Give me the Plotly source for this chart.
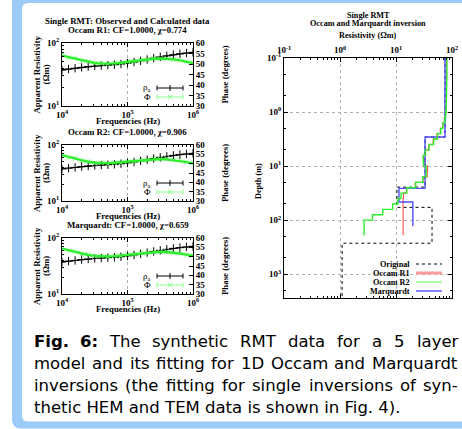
import plotly.graph_objects as go

W, H = 462, 429

# ---------------- data: left panels ----------------
freq = [10000, 12589, 15849, 19953, 25119, 31623, 39811, 50119, 63096, 79433,
        100000, 125893, 158489, 199526, 251189, 316228, 398107, 501187, 630957, 794328, 1000000]
rho_obs = [37.3, 38.6, 39.8, 41.1, 42.2, 43.1, 43.8, 44.5, 45.2, 46.3, 47.8,
           49.8, 52.2, 54.8, 57.5, 60.2, 62.8, 65.2, 67.3, 69.2, 71.0]
phase_obs = [54.4, 53.1, 52.8, 51.4, 51.2, 50.3, 50.4, 49.9, 50.5, 50.4, 51.2,
             51.2, 52.0, 52.0, 52.7, 52.4, 52.7, 52.0, 51.9, 50.9, 50.6]
rho_calc_r1 = [37.5, 38.7, 39.9, 41.0, 42.1, 43.0, 43.8, 44.6, 45.4, 46.5, 47.9,
               49.8, 52.1, 54.7, 57.4, 60.1, 62.7, 65.1, 67.3, 69.2, 71.0]
phase_calc_r1 = [54.0, 53.3, 52.5, 51.7, 51.0, 50.5, 50.2, 50.1, 50.3, 50.6, 51.0,
                 51.4, 51.8, 52.2, 52.5, 52.6, 52.5, 52.2, 51.7, 51.1, 50.4]
rho_calc_r2 = [37.6, 38.8, 39.9, 41.0, 42.0, 42.9, 43.7, 44.5, 45.4, 46.5, 47.9,
               49.8, 52.1, 54.7, 57.4, 60.1, 62.7, 65.1, 67.3, 69.2, 71.0]
phase_calc_r2 = [54.6, 53.6, 52.6, 51.7, 51.0, 50.5, 50.3, 50.3, 50.5, 50.8, 51.2,
                 51.6, 52.0, 52.3, 52.5, 52.5, 52.3, 51.9, 51.4, 50.8, 50.1]
rho_calc_mq = [37.4, 38.6, 39.8, 41.0, 42.1, 43.0, 43.8, 44.6, 45.4, 46.5, 47.9,
               49.8, 52.1, 54.7, 57.4, 60.1, 62.7, 65.1, 67.3, 69.2, 71.0]
phase_calc_mq = [54.3, 53.4, 52.5, 51.6, 50.9, 50.4, 50.1, 50.1, 50.3, 50.6, 51.0,
                 51.4, 51.8, 52.2, 52.5, 52.6, 52.5, 52.2, 51.7, 51.1, 50.4]
panel_titles = ["Occam R1: CF=1.0000, χ=0.774",
                "Occam R2: CF=1.0000, χ=0.906",
                "Marquardt: CF=1.0000, χ=0.659"]
freq_ticks = [1e4, 1e5, 1e6]
freq_ticktext = ["10<sup>4</sup>", "10<sup>5</sup>", "10<sup>6</sup>"]
rho_ticks = [10, 100]
rho_ticktext = ["10<sup>1</sup>", "10<sup>2</sup>"]
phase_ticks = [30, 35, 40, 45, 50, 55, 60]

# ---------------- data: right panel (layered models) ----------------
occam_top = [0.1, 0.126, 0.158, 0.2, 0.251, 0.316, 0.398, 0.501, 0.631, 0.794,
             1.0, 1.26, 1.58, 2.0, 2.51, 3.16, 3.98, 5.01, 6.31, 7.94,
             10.0, 12.6, 15.8, 20.0, 25.1, 31.6, 39.8, 50.1, 63.1, 79.4,
             100.0, 126.0, 158.0]
occam_bottom = 190.0
occam_r1_res = [80, 80, 80, 80, 79.5, 79, 79, 78.5, 78, 77.5,
                76, 73, 68, 62, 54, 46, 38.5, 33.5, 31, 32.5,
                36.5, 36, 30.5, 22, 15.5, 13.6, 13.4, 13.4, 13.4, 13.4,
                13.4, 13.4, 13.4]
occam_r2_res = [81, 81, 81, 81, 80.5, 80, 80, 79.5, 79, 78.5,
                77, 74, 69, 63, 55, 47, 39, 33.5, 30.5, 31,
                34.5, 34.5, 30, 22.5, 15.5, 12.3, 10.8, 8.7, 5.8, 3.8,
                2.7, 2.7, 2.7]
marq_top = [0.1, 2.9, 25.8, 46.0]
marq_bottom = 129.0
marq_res = [75, 33, 11.3, 20]
orig_top = [0.1, 2.9, 24.5, 58.0, 267.0]
orig_bottom = 10000.0
orig_res = [75, 33, 10.4, 44, 1.09]
res_ticks = [0.1, 1, 10, 100]
res_ticktext = ["10<sup>-1</sup>", "10<sup>0</sup>", "10<sup>1</sup>", "10<sup>2</sup>"]
depth_ticks = [0.1, 1, 10, 100, 1000]
depth_ticktext = ["10<sup>-1</sup>", "10<sup>0</sup>", "10<sup>1</sup>", "10<sup>2</sup>", "10<sup>3</sup>"]

# ---------------- styling ----------------
SERIF = "Liberation Serif"
SANS = "DejaVu Sans"
FRAME = "#9ccbf8"
GRN = "#2cf02c"
GRN_L = "#8cff8c"
RED = "#ff4a4a"
BLUE = "#4f4fff"


def px(x):
    return x / W


def py(y):
    return 1 - y / H


tickfont = dict(family=SERIF, size=9, color="black", weight="bold")
lab_font = dict(family=SERIF, size=8.8, color="black", weight="bold")

fig = go.Figure()

LX0, LX1 = 62, 193
panels_px = [(43, 106), (145, 201), (238, 294)]
rho_calcs = [rho_calc_r1, rho_calc_r2, rho_calc_mq]
phase_calcs = [phase_calc_r1, phase_calc_r2, phase_calc_mq]

layout = dict(width=W, height=H, margin=dict(l=0, r=0, t=0, b=0, pad=0),
              template="none", paper_bgcolor="white", plot_bgcolor="rgba(0,0,0,0)",
              showlegend=False)

annotations = []
shapes = []

minor_f = [m * 10 ** k for k in (4, 5) for m in range(2, 10)]
minor_r = [m * 10 for m in range(2, 10)]


def ann(x, y, text, font, **kw):
    d = dict(x=px(x), y=py(y), text=text, showarrow=False, xref="paper", yref="paper",
             font=font, xanchor="center", yanchor="middle")
    d.update(kw)
    annotations.append(d)


for i, (top, bot) in enumerate(panels_px):
    xi = i + 1
    yl = 2 * i + 1
    yr = 2 * i + 2
    xname = "xaxis" if xi == 1 else f"xaxis{xi}"
    ylname = "yaxis" if yl == 1 else f"yaxis{yl}"
    yrname = f"yaxis{yr}"
    xid = "x" if xi == 1 else f"x{xi}"
    ylid = "y" if yl == 1 else f"y{yl}"
    yrid = f"y{yr}"
    layout[xname] = dict(type="log", range=[4, 6], domain=[px(LX0), px(LX1)], anchor=ylid,
                         tickvals=freq_ticks, ticktext=freq_ticktext, ticks="inside", ticklen=4,
                         tickcolor="black", showline=True, linecolor="black", linewidth=1,
                         mirror="ticks", showgrid=True, gridcolor="#b0b0b0", griddash="dot",
                         gridwidth=0.7, zeroline=False, tickfont=tickfont, automargin=False,
                         minor=dict(ticks="inside", ticklen=2, tickcolor="black",
                                    tickvals=minor_f, showgrid=False))
    layout[ylname] = dict(type="log", range=[1, 2], domain=[py(bot), py(top)], anchor=xid,
                          tickvals=rho_ticks, ticktext=rho_ticktext, ticks="inside", ticklen=4,
                          tickcolor="black", showline=True, linecolor="black", linewidth=1,
                          showgrid=False, zeroline=False, tickfont=tickfont, automargin=False,
                          minor=dict(ticks="inside", ticklen=2, tickcolor="black",
                                     tickvals=minor_r, showgrid=False))
    layout[yrname] = dict(range=[30, 60], overlaying=ylid, side="right", anchor=xid,
                          tickvals=phase_ticks, ticks="inside", ticklen=4, tickcolor="black",
                          showline=True, linecolor="black", linewidth=1, showgrid=False,
                          zeroline=False, tickfont=tickfont, automargin=False)

    fig.add_trace(go.Scatter(x=freq, y=phase_obs, mode="markers", xaxis=xid, yaxis=yrid,
                             marker=dict(symbol="x-thin", size=5, color=GRN_L,
                                         line=dict(width=1, color=GRN_L))))
    fig.add_trace(go.Scatter(x=freq, y=phase_calcs[i], mode="lines", xaxis=xid, yaxis=yrid,
                             line=dict(color=GRN, width=2.4)))
    fig.add_trace(go.Scatter(x=freq, y=rho_calcs[i], mode="lines", xaxis=xid, yaxis=ylid,
                             line=dict(color="black", width=1.1)))
    fig.add_trace(go.Scatter(x=freq, y=rho_obs, mode="markers", xaxis=xid, yaxis=ylid,
                             marker=dict(symbol="cross-thin", size=6, color="black",
                                         line=dict(width=1, color="black"))))

    cx = (LX0 + LX1) / 2
    if i == 0:
        ann(cx, 21, "Single RMT: Observed and Calculated data", lab_font)
    ann(cx, top - 13, panel_titles[i], lab_font)
    ann(cx, bot + 15, "Frequencies (Hz)", lab_font)
    mid = (top + bot) / 2
    ann(37, mid, "Apparent Resistivity", lab_font, textangle=-90)
    ann(46, mid, "(Ωm)", lab_font, textangle=-90)
    ann(225, mid, "Phase (degrees)", lab_font, textangle=-90)
    # key
    y1 = bot - 18
    y2 = bot - 9
    ann(153, y1, "ρ<sub>a</sub>", dict(family=SERIF, size=9, color="black"), xanchor="right")
    ann(153, y2, "Φ", dict(family=SERIF, size=9, color="black"), xanchor="right")
    for yy, col, mk in ((y1, "black", "+"), (y2, GRN_L, "x")):
        ln = dict(color=col, width=1)
        shapes.append(dict(type="line", xref="paper", yref="paper", x0=px(157), x1=px(183),
                           y0=py(yy), y1=py(yy), line=ln))
        for xe in (157, 183):
            shapes.append(dict(type="line", xref="paper", yref="paper", x0=px(xe), x1=px(xe),
                               y0=py(yy - 2.5), y1=py(yy + 2.5), line=ln))
        if mk == "+":
            shapes.append(dict(type="line", xref="paper", yref="paper", x0=px(170), x1=px(170),
                               y0=py(yy - 3), y1=py(yy + 3), line=ln))
        else:
            shapes.append(dict(type="line", xref="paper", yref="paper", x0=px(167.5), x1=px(172.5),
                               y0=py(yy - 2.5), y1=py(yy + 2.5), line=ln))
            shapes.append(dict(type="line", xref="paper", yref="paper", x0=px(167.5), x1=px(172.5),
                               y0=py(yy + 2.5), y1=py(yy - 2.5), line=ln))

# ---------------- right panel ----------------
RX0, RX1, RT, RB = 284, 452, 58, 298
minor_res = [m * 10 ** k for k in (-1, 0, 1) for m in range(2, 10)]
minor_dep = [m * 10 ** k for k in (-1, 0, 1, 2, 3) for m in (2, 5)]
layout["xaxis4"] = dict(type="log", range=[-1, 2], domain=[px(RX0), px(RX1)], anchor="y7",
                        side="top", tickvals=res_ticks, ticktext=res_ticktext, ticks="inside",
                        ticklen=4, tickcolor="black", showline=True, linecolor="black",
                        linewidth=1, mirror="ticks", showgrid=True, gridcolor="#b0b0b0",
                        griddash="dot", gridwidth=0.7, zeroline=False, tickfont=tickfont,
                        automargin=False,
                        minor=dict(ticks="inside", ticklen=2, tickcolor="black",
                                   tickvals=minor_res, showgrid=False))
layout["yaxis7"] = dict(type="log", range=[3.44, -1], domain=[py(RB), py(RT)], anchor="x4",
                        tickvals=depth_ticks, ticktext=depth_ticktext, ticks="inside",
                        ticklen=4, tickcolor="black", showline=True, linecolor="black",
                        linewidth=1, mirror="ticks", showgrid=True, gridcolor="#b0b0b0",
                        griddash="dot", gridwidth=0.7, zeroline=False, tickfont=tickfont,
                        automargin=False,
                        minor=dict(ticks="inside", ticklen=2, tickcolor="black",
                                   tickvals=minor_dep, showgrid=False))


def steps(res, tops, bottom):
    return res + [res[-1]], tops + [bottom]


for res, tops, bottom, col, wid, dash in (
        (orig_res, orig_top, orig_bottom, "black", 1, "3px,3px"),
        (occam_r1_res, occam_top, occam_bottom, RED, 1.1, "solid"),
        (marq_res, marq_top, marq_bottom, BLUE, 1.4, "solid"),
        (occam_r2_res, occam_top, occam_bottom, GRN, 1.4, "solid")):
    xs, ys = steps(res, tops, bottom)
    fig.add_trace(go.Scatter(x=xs, y=ys, mode="lines", line_shape="vh", xaxis="x4", yaxis="y7",
                             line=dict(color=col, width=wid, dash=dash)))

r_font = dict(family=SERIF, size=8.2, color="black", weight="bold")
rcx = (RX0 + RX1) / 2
for yy, txt in ((15, "Single RMT"), (24, "Occam and Marquardt inversion"),
                (35, "Resistivity (Ωm)")):
    ann(rcx, yy, txt, r_font)
ann(258, 181, "Depth (m)", r_font, textangle=-90)
key = [("Original", "black", 1, "3px,3px"), ("Occam R1", "#ff9a9a", 3, "solid"),
       ("Occam R2", "#7dff7d", 1.4, "solid"), ("Marquardt", BLUE, 1.4, "solid")]
for k, (lab, col, wid, dash) in enumerate(key):
    yy = 264 + 9 * k
    ann(412, yy, lab, r_font, xanchor="right")
    shapes.append(dict(type="line", xref="paper", yref="paper", x0=px(416), x1=px(442),
                       y0=py(yy), y1=py(yy), line=dict(color=col, width=wid, dash=dash)))


# ---------------- frame ----------------
def rpath(x0, y0, x1, y1, r):
    pts = [("M", x0 + r, y0), ("L", x1 - r, y0), ("Q", x1, y0, x1, y0 + r),
           ("L", x1, y1 - r), ("Q", x1, y1, x1 - r, y1), ("L", x0 + r, y1),
           ("Q", x0, y1, x0, y1 - r), ("L", x0, y0 + r), ("Q", x0, y0, x0 + r, y0)]
    s = ""
    for p in pts:
        if p[0] == "Q":
            s += f"Q {px(p[1]):.5f},{py(p[2]):.5f} {px(p[3]):.5f},{py(p[4]):.5f} "
        else:
            s += f"{p[0]} {px(p[1]):.5f},{py(p[2]):.5f} "
    return s + "Z"


frame = [dict(type="path", xref="paper", yref="paper", path=rpath(12, -20, 490, 428.5, 9),
              fillcolor=FRAME, line=dict(width=0), layer="below"),
         dict(type="path", xref="paper", yref="paper", path=rpath(22, 3, 490, 421.5, 6),
              fillcolor="white", line=dict(width=0), layer="below")]
shapes = frame + shapes

# ---------------- caption ----------------
WREG = {" ": 651, "(": 799, ")": 799, "-": 739, ".": 651, ":": 690, "A": 1401, "C": 1430,
        "D": 1577, "E": 1294, "F": 1178, "H": 1540, "M": 1767, "O": 1612, "R": 1423,
        "T": 1251, "a": 1255, "b": 1300, "c": 1126, "d": 1300, "e": 1260, "f": 721,
        "g": 1300, "h": 1298, "i": 569, "k": 1186, "l": 569, "m": 1995, "n": 1298,
        "o": 1253, "p": 1300, "q": 1300, "r": 842, "s": 1067, "t": 803, "u": 1298,
        "v": 1212, "w": 1675, "x": 1212, "y": 1212}
WBOLD = {" ": 713, ".": 780, ":": 818, "F": 1290, "i": 702, "g": 1466}
CAP_SIZE = 16.5
CAP_X0, CAP_X1 = 33, 457


def wwidth(word, bold):
    tab = WBOLD if bold else WREG
    return sum((tab.get(c, 1303 if c.isdigit() else 1250)) for c in word) / 2048 * CAP_SIZE


caption_lines = [
    [("Fig.", True), ("6:", True), ("The", False), ("synthetic", False), ("RMT", False),
     ("data", False), ("for", False), ("a", False), ("5", False), ("layer", False)],
    [(w, False) for w in "model and its fitting for 1D Occam and Marquardt".split()],
    [(w, False) for w in "inversions (the fitting for single inversions of syn-".split()],
]
cap_y = [341, 363, 385]
for words, yy in zip(caption_lines, cap_y):
    widths = [wwidth(w, b) for w, b in words]
    gap = (CAP_X1 - CAP_X0 - sum(widths)) / (len(words) - 1)
    xx = CAP_X0
    for j, ((w, b), wd) in enumerate(zip(words, widths)):
        ann(xx, yy, w, dict(family=SANS, size=CAP_SIZE, color="black",
                            weight="bold" if b else "normal"),
            xanchor="left", borderpad=0)
        xx += wd + gap
ann(CAP_X0, 407, "thetic HEM and TEM data is shown in Fig. 4).",
    dict(family=SANS, size=CAP_SIZE, color="black"), xanchor="left", borderpad=0)

layout["annotations"] = annotations
layout["shapes"] = shapes
fig.update_layout(**layout)
fig.write_html("out.html", config={"displayModeBar": False},
               post_script="document.body.style.margin='0px';document.body.style.overflow='hidden';")
